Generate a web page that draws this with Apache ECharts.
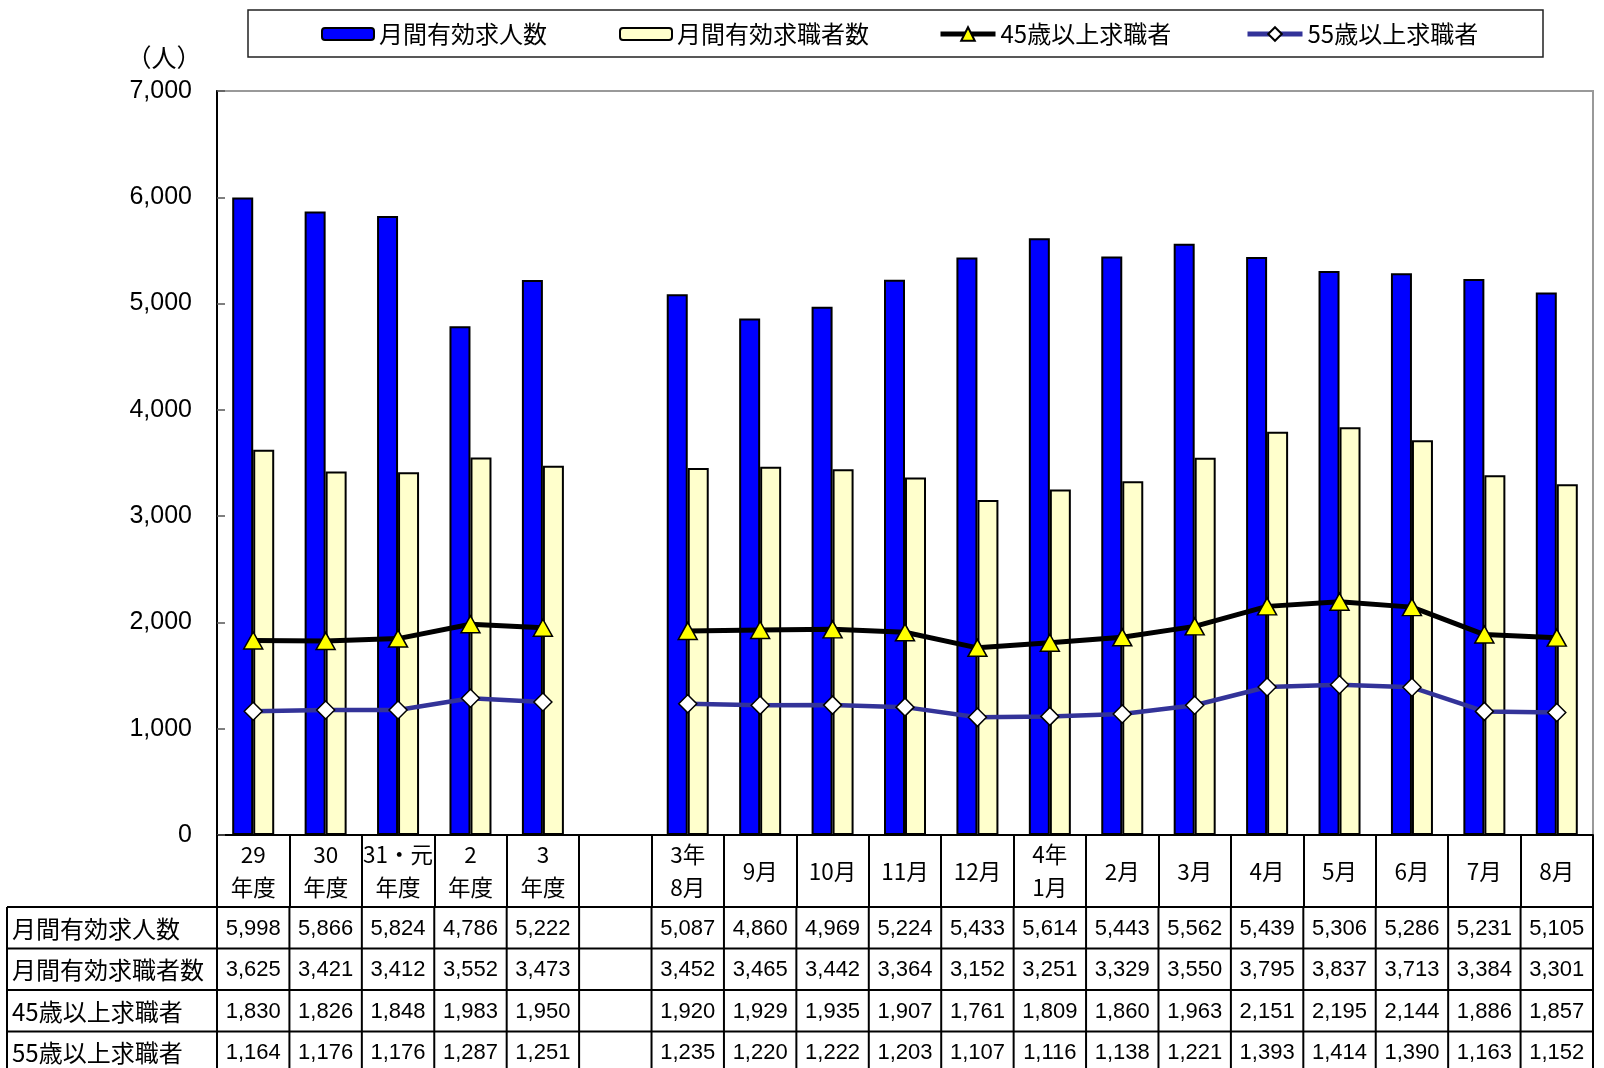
<!DOCTYPE html>
<html><head><meta charset="utf-8">
<script src="https://cdn.jsdelivr.net/npm/echarts@6/dist/echarts.min.js"></script>
<style>html,body{margin:0;padding:0;background:#fff}#c{width:1604px;height:1068px}</style>
</head><body><div id="c"></div>
<script>
const categories = ['29\n年度','30\n年度','31・元\n年度','2\n年度','3\n年度','','3年\n8月','9月','10月','11月','12月','4年\n1月','2月','3月','4月','5月','6月','7月','8月'];
const seriesNames = ['月間有効求人数','月間有効求職者数','45歳以上求職者','55歳以上求職者'];
const jobOffers  = [5998,5866,5824,4786,5222,null,5087,4860,4969,5224,5433,5614,5443,5562,5439,5306,5286,5231,5105];
const jobSeekers = [3625,3421,3412,3552,3473,null,3452,3465,3442,3364,3152,3251,3329,3550,3795,3837,3713,3384,3301];
const seekers45  = [1830,1826,1848,1983,1950,null,1920,1929,1935,1907,1761,1809,1860,1963,2151,2195,2144,1886,1857];
const seekers55  = [1164,1176,1176,1287,1251,null,1235,1220,1222,1203,1107,1116,1138,1221,1393,1414,1390,1163,1152];
const yMin = 0, yMax = 7000, yStep = 1000;
const unitLabel = '（人）';

const JP = "'Noto Sans CJK JP', sans-serif";
const NUM = "'Liberation Sans', Arial, sans-serif";
const fmt = v => v == null ? '' : v.toLocaleString('en-US');

const chart = echarts.init(document.getElementById('c'), null, {renderer: 'canvas'});

function legendFor(name, left, h, w, lineColor) {
  const l = {
    data: [name], left: left, top: 22, padding: 0, orient: 'horizontal',
    itemWidth: w, itemHeight: h, selectedMode: false,
    textStyle: {fontFamily: JP, fontSize: 24, color: '#000'}
  };
  if (lineColor) l.lineStyle = {width: 5, color: lineColor};
  return l;
}

const option = {
  animation: false,
  backgroundColor: '#fff',
  legend: [
    legendFor(seriesNames[0], 321, 12, 52),
    legendFor(seriesNames[1], 619, 12, 52),
    legendFor(seriesNames[2], 938, 17, 55, '#000'),
    legendFor(seriesNames[3], 1245, 17, 55, '#333399')
  ],
  grid: {left: 217, right: 11, top: 91, bottom: 233, show: true, borderColor: '#999', borderWidth: 2, containLabel: false},
  xAxis: {
    type: 'category', data: categories, boundaryGap: true,
    axisLine: {show: true, lineStyle: {color: '#000', width: 2}},
    axisTick: {show: true, interval: 0, length: 72, lineStyle: {color: '#000', width: 2}},
    axisLabel: {interval: 0, fontFamily: JP, fontSize: 22.5, lineHeight: 33, color: '#000', verticalAlign: 'middle', margin: 36},
    splitLine: {show: false}
  },
  yAxis: {
    type: 'value', min: yMin, max: yMax, interval: yStep,
    axisLine: {show: true, lineStyle: {color: '#000', width: 2}},
    axisTick: {show: true, inside: true, length: 8, lineStyle: {color: '#555', width: 1.5}},
    axisLabel: {fontFamily: NUM, fontSize: 25, color: '#000', margin: 25, formatter: v => fmt(v)},
    splitLine: {show: false}
  },
  series: [
    {name: seriesNames[0], type: 'bar', data: jobOffers, barWidth: 21, barGap: '0%',
     itemStyle: {color: '#0000FF', borderColor: '#000', borderWidth: 2}},
    {name: seriesNames[1], type: 'bar', data: jobSeekers, barWidth: 21, barGap: '0%',
     itemStyle: {color: '#FFFFCC', borderColor: '#000', borderWidth: 2}},
    {name: seriesNames[2], type: 'line', data: seekers45, connectNulls: false, showSymbol: true,
     symbol: 'triangle', symbolSize: [19, 17], z: 5,
     lineStyle: {color: '#000', width: 5},
     itemStyle: {color: '#FFFF00', borderColor: '#000', borderWidth: 1.5}},
    {name: seriesNames[3], type: 'line', data: seekers55, connectNulls: false, showSymbol: true,
     symbol: 'diamond', symbolSize: 18, z: 5,
     lineStyle: {color: '#333399', width: 4.5},
     itemStyle: {color: '#FFFFFF', borderColor: '#000', borderWidth: 1.5}}
  ]
};
chart.setOption(option);

// Data table below the axis, positioned from the axis scales
const xc = i => chart.convertToPixel({xAxisIndex: 0}, i);
const band = xc(1) - xc(0);
const axisY = chart.convertToPixel({yAxisIndex: 0}, yMin);
const leftEdge = 7;
const firstX = xc(0) - band / 2;
const lastX = xc(categories.length - 1) + band / 2;
const hdrBottom = axisY + 72;
const rowH = 41.5;
const rows = [jobOffers, jobSeekers, seekers45, seekers55];
const g = [];
const lineStyle = {stroke: '#000', lineWidth: 2};
for (let r = 0; r <= rows.length; r++) {
  const y = hdrBottom + r * rowH;
  g.push({type: 'line', shape: {x1: leftEdge, y1: y, x2: lastX, y2: y}, style: lineStyle, z: 10});
}
const tableBottom = hdrBottom + rows.length * rowH;
g.push({type: 'line', shape: {x1: leftEdge, y1: hdrBottom, x2: leftEdge, y2: tableBottom}, style: lineStyle, z: 10});
for (let k = 0; k <= categories.length; k++) {
  const x = firstX + k * band;
  g.push({type: 'line', shape: {x1: x, y1: hdrBottom, x2: x, y2: tableBottom}, style: lineStyle, z: 10});
}
rows.forEach((arr, r) => {
  const cy = hdrBottom + r * rowH + rowH / 2 + 1;
  g.push({type: 'text', x: 12, y: cy, z: 11,
    style: {text: seriesNames[r], fontFamily: JP, fontSize: 24, fill: '#000', textAlign: 'left', textVerticalAlign: 'middle'}});
  arr.forEach((v, i) => {
    if (v == null) return;
    g.push({type: 'text', x: xc(i), y: cy, z: 11,
      style: {text: fmt(v), fontFamily: NUM, fontSize: 22, fill: '#000', textAlign: 'center', textVerticalAlign: 'middle'}});
  });
});
// legend frame
g.push({type: 'rect', shape: {x: 248, y: 10, width: 1295, height: 47}, style: {fill: null, stroke: '#222', lineWidth: 1.5}, z: -1});
// unit label
g.push({type: 'text', x: 164, y: 57, style: {text: unitLabel, fontFamily: JP, fontSize: 25, fill: '#000', textAlign: 'center', textVerticalAlign: 'middle'}});
chart.setOption({graphic: {elements: g}});
</script>
</body></html>
